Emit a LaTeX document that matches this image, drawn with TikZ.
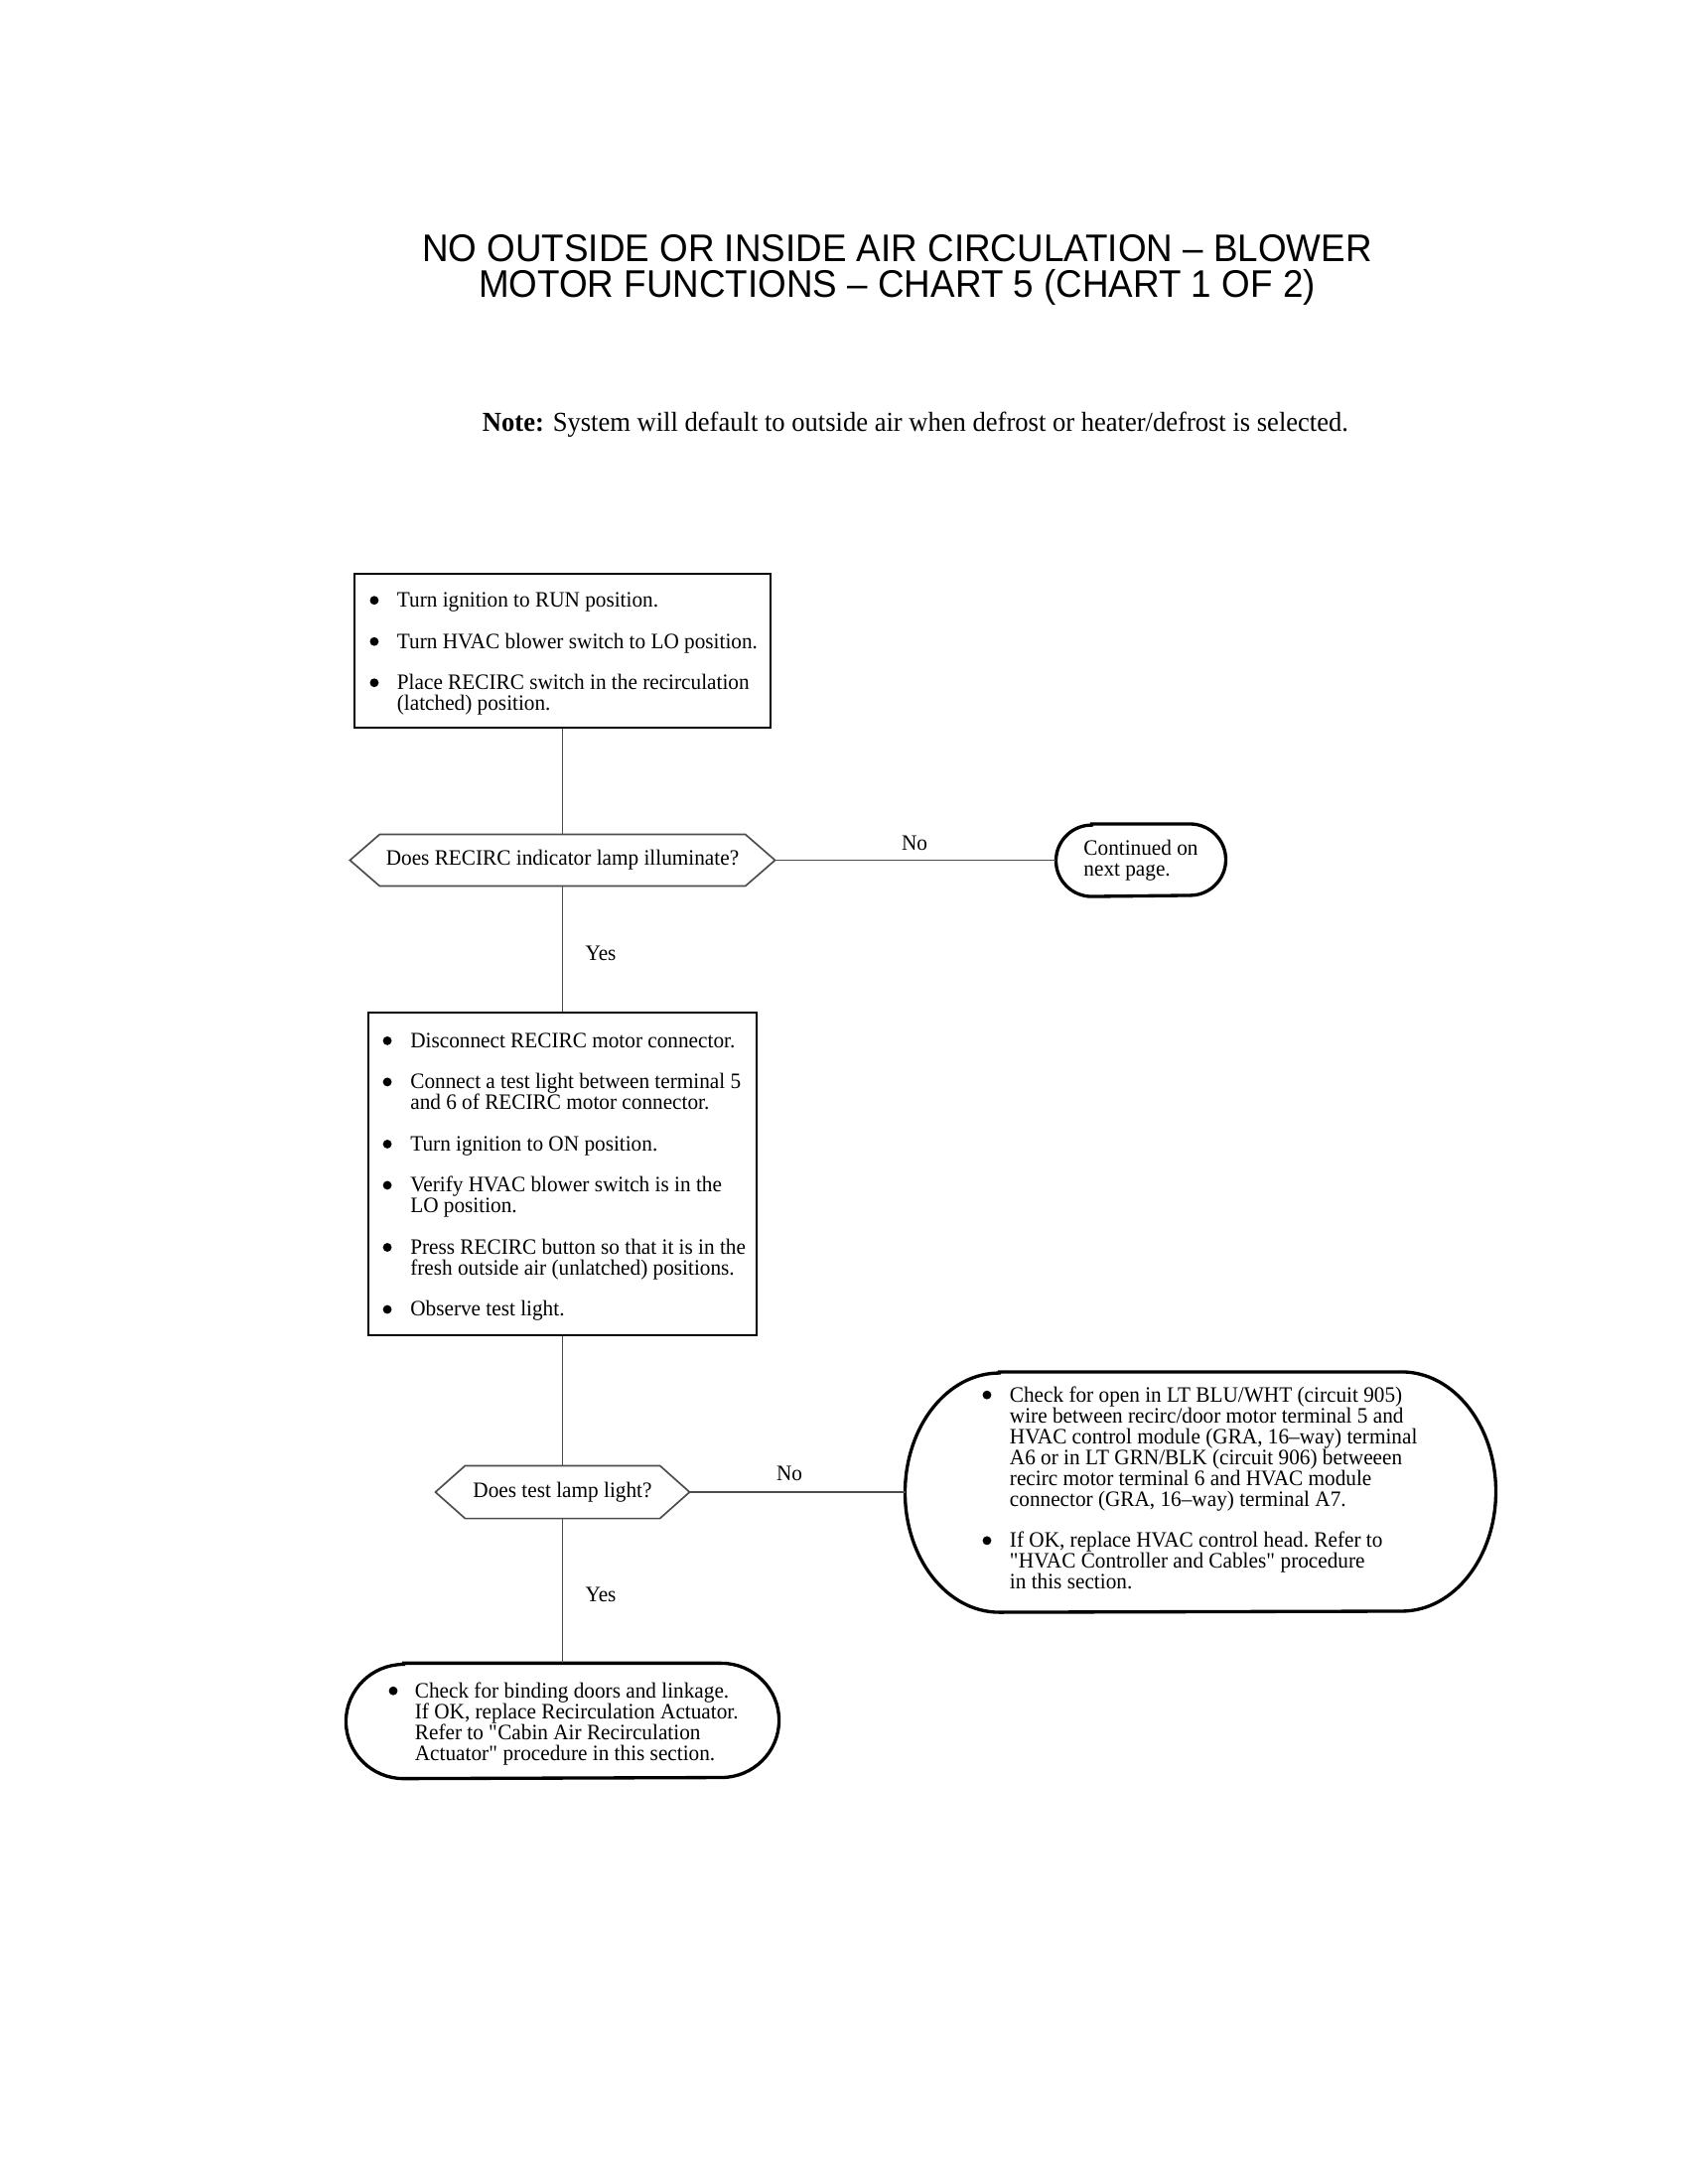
\documentclass[tikz,border=0pt]{standalone}
\usepackage{fontspec}
\setmainfont{Liberation Serif}[FakeStretch=0.96]
\newfontfamily\titlefont{Liberation Sans}[FakeStretch=0.95]
\newlength\bulL
\newlength\bulT
\newcommand\bdot{\tikz[baseline=0pt]{\fill (1.6pt,2.5pt) circle[radius=1.6pt];}}
\newcommand\bitem{\par\noindent\hangindent=\bulT\hangafter=1\parskip=7.4pt\relax\hbox to \bulT{\hskip\bulL\bdot\hfil}\ignorespaces}
\newcommand\bodyset{\fontsize{8}{7.6}\selectfont\frenchspacing\spaceskip=0.24em plus 0.06em minus 0.02em\relax
  \rightskip=-40pt plus 1fil\relax\parfillskip=0pt plus 1fil\relax\hyphenpenalty=10000\relax\exhyphenpenalty=10000\relax}
\newcommand\smallfont{\fontsize{8}{7.6}\selectfont}
\newcommand\bigtitlefont{\titlefont\fontsize{14}{13}\selectfont}
\newcommand\notefont{\fontsize{10}{12}\selectfont}
\tikzset{
  box/.style={draw=black, line width=1pt, inner sep=0pt, align=left, anchor=center},
  hexnode/.style={inner sep=0pt, font=\smallfont, anchor=center},
  hexline/.style={draw=black!70, line width=0.6pt},
  termnode/.style={inner sep=0pt, align=left, anchor=center},
  termline/.style={draw=black, line width=1.2pt},
  conn/.style={draw=black!70, line width=0.5pt},
  lbl/.style={font=\smallfont, inner sep=0pt, anchor=center},
}
\begin{document}
\lineskiplimit=-10pt
\lineskip=0pt
\begin{tikzpicture}[x=0.36135pt,y=-0.36135pt]
\fill[white] (0,0) rectangle (1700,2200);
\useasboundingbox (0,0) rectangle (1700,2200);

% title and note
\node[anchor=north, inner sep=0pt, align=center, font=\bigtitlefont] (title) at (903.5,236)
  {NO OUTSIDE OR INSIDE AIR CIRCULATION \textendash{} BLOWER\\MOTOR FUNCTIONS \textendash{} CHART 5 (CHART 1 OF 2)};
\node[anchor=base, inner sep=0pt, font=\notefont] (note) at (922,434)
  {\textbf{Note:} System will default to outside air when defrost or heater/defrost is selected.};

% box 1
\node[box, text width=151.4pt, minimum height=56pt] (b1) at (566.5,655.5)
  {\bodyset\setlength\bulL{5.6pt}\setlength\bulT{15.5pt}%
   \bitem Turn ignition to RUN position.
   \bitem Turn HVAC blower switch to LO position.
   \bitem Place RECIRC switch in the recirculation\newline(latched) position.\par};

% decision 1
\node[hexnode, minimum width=154.3pt, minimum height=18.4pt] (d1) at (566.5,866.5)
  {Does RECIRC indicator lamp illuminate?};
\draw[hexline] (d1.west) -- ([xshift=10.8pt]d1.north west) -- ([xshift=-10.8pt]d1.north east)
  -- (d1.east) -- ([xshift=-10.8pt]d1.south east) -- ([xshift=10.8pt]d1.south west) -- cycle;

% continued terminal
\node[termnode, minimum width=61.4pt, minimum height=26pt, font=\smallfont] (c1) at (1149,866.5)
  {Continued on\\next page.};
\draw[termline] ([xshift=13pt]c1.north west) -- ([xshift=-13pt]c1.north east)
  arc[start angle=90, end angle=-90, x radius=13pt, y radius=13pt]
  -- ([xshift=13pt]c1.south west)
  arc[start angle=270, end angle=90, x radius=13pt, y radius=13pt] -- cycle;

% box 2
\node[box, text width=141.3pt, minimum height=117.4pt] (b2) at (566.5,1182.5)
  {\bodyset\setlength\bulL{5.3pt}\setlength\bulT{15.3pt}%
   \bitem Disconnect RECIRC motor connector.
   \bitem Connect a test light between terminal 5\newline and 6 of RECIRC motor connector.
   \bitem Turn ignition to ON position.
   \bitem Verify HVAC blower switch is in the\newline LO position.
   \bitem Press RECIRC button so that it is in the\newline fresh outside air (unlatched) positions.
   \bitem Observe test light.\par};

% decision 2
\node[hexnode, minimum width=92.1pt, minimum height=18.8pt] (d2) at (566.5,1503)
  {Does test lamp light?};
\draw[hexline] (d2.west) -- ([xshift=10.8pt]d2.north west) -- ([xshift=-10.8pt]d2.north east)
  -- (d2.east) -- ([xshift=-10.8pt]d2.south east) -- ([xshift=10.8pt]d2.south west) -- cycle;

% right terminal
\node[termnode, text width=214.6pt, minimum height=87.1pt] (rt) at (1209,1503)
  {\bodyset\setlength\bulL{28pt}\setlength\bulT{37.9pt}%
   \bitem Check for open in LT BLU/WHT (circuit 905)\newline wire between recirc/door motor terminal 5 and\newline HVAC control module (GRA, 16\textendash way) terminal\newline A6 or in LT GRN/BLK (circuit 906) betweeen\newline recirc motor terminal 6 and HVAC module\newline connector (GRA, 16\textendash way) terminal A7.
   \bitem If OK, replace HVAC control head. Refer to\newline \textquotedbl HVAC Controller and Cables\textquotedbl{} procedure\newline in this section.\par\kern5pt};
\draw[termline] ([xshift=34.3pt]rt.north west) -- ([xshift=-34.3pt]rt.north east)
  arc[start angle=90, end angle=-90, x radius=34.3pt, y radius=43.55pt]
  -- ([xshift=34.3pt]rt.south west)
  arc[start angle=270, end angle=90, x radius=34.3pt, y radius=43.55pt] -- cycle;

% bottom terminal
\node[termnode, text width=157.2pt, minimum height=41.6pt] (bt) at (566.5,1733.5)
  {\bodyset\setlength\bulL{15.4pt}\setlength\bulT{24.9pt}%
   \bitem Check for binding doors and linkage.\newline If OK, replace Recirculation Actuator.\newline Refer to \textquotedbl Cabin Air Recirculation\newline Actuator\textquotedbl{} procedure in this section.\par};
\draw[termline] ([xshift=21pt]bt.north west) -- ([xshift=-21pt]bt.north east)
  arc[start angle=90, end angle=-90, x radius=21pt, y radius=20.8pt]
  -- ([xshift=21pt]bt.south west)
  arc[start angle=270, end angle=90, x radius=21pt, y radius=20.8pt] -- cycle;

% connectors
\draw[conn] (b1) -- (d1);
\draw[conn] (d1) -- (c1);
\draw[conn] (d1) -- (b2);
\draw[conn] (b2) -- (d2);
\draw[conn] (d2) -- (rt);
\draw[conn] (d2) -- (bt);

% labels
\node[lbl] (no1) at (921,849) {No};
\node[lbl] (yes1) at (605,960) {Yes};
\node[lbl] (no2) at (795,1484) {No};
\node[lbl] (yes2) at (605,1606) {Yes};
\end{tikzpicture}
\end{document}
